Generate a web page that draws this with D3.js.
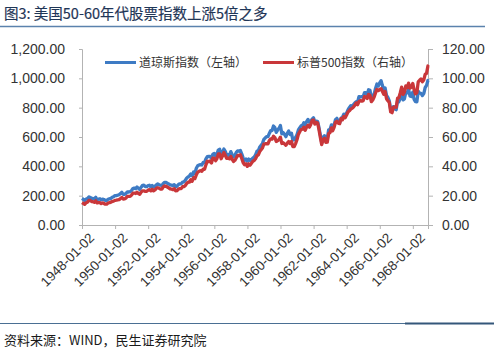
<!DOCTYPE html>
<html><head><meta charset="utf-8">
<script src="https://cdn.jsdelivr.net/npm/d3@7"></script>
<style>
html,body{margin:0;padding:0;background:#fff;}
svg{display:block;}
</style></head>
<body>
<svg id="c" width="500" height="356"></svg>
<script>
// ---- data ----
const titleText = "图3: 美国50-60年代股票指数上涨5倍之多";
const sourceText = "资料来源：WIND，民生证券研究院";
const seriesNames = ["道琼斯指数（左轴）", "标普500指数（右轴）"];
const firstDate = "1948-01-02";
const lastDate = "1968-12-02";
// month-end observations from 1948-01 to 1968-11, plus first and last day
const djiaFirst = 181, djiaLast = 983;
const spFirst = 15.3, spLast = 108.1;
const djia = [
 175,167,177,180,191,189,181,181,178,189,171,177, // 1948
 179,171,177,174,168,167,175,179,182,189,193,200, // 1949
 201,203,206,214,223,209,209,216,226,225,227,235, // 1950
 249,252,248,259,250,242,258,270,271,262,261,269, // 1951
 271,260,270,258,263,274,280,275,271,269,283,291, // 1952
 290,284,280,274,272,268,275,261,265,276,281,281, // 1953
 292,294,304,319,328,334,348,336,361,352,387,404, // 1954
 409,412,409,426,425,451,466,468,467,455,483,488, // 1955
 471,484,512,516,478,493,518,502,476,480,473,500, // 1956
 479,465,474,495,505,503,508,484,456,441,450,436, // 1957
 450,440,447,456,463,478,503,508,532,543,557,584, // 1958
 594,603,602,624,644,644,675,664,632,647,659,679, // 1959
 622,630,617,602,625,641,617,626,580,581,597,616, // 1960
 648,662,676,679,697,684,705,720,701,704,722,731, // 1961
 700,708,707,665,614,561,598,609,579,590,649,652, // 1962
 683,663,683,718,727,707,695,729,733,755,751,763, // 1963
 785,800,813,811,821,832,841,839,875,873,875,874, // 1964
 903,903,889,922,918,868,882,893,931,961,947,969, // 1965
 984,952,925,934,884,870,847,788,774,807,792,786, // 1966
 850,840,866,897,853,860,904,901,927,880,876,905, // 1967
 856,841,840,912,899,898,883,896,936,952,985      // 1968
];
const sp500 = [
 14.7,14.1,15.1,15.5,16.7,16.7,16.0,15.9,15.5,16.5,15.0,15.2, // 1948
 15.2,14.6,15.1,14.7,14.2,14.2,15.0,15.2,15.6,16.0,16.3,16.8, // 1949
 17.0,17.2,17.3,18.0,18.8,17.7,17.8,18.4,19.5,19.5,19.5,20.4, // 1950
 21.7,21.8,21.5,22.4,21.5,21.0,22.4,23.3,23.3,22.9,22.9,23.8, // 1951
 24.1,23.3,24.4,23.3,23.9,25.0,25.4,25.0,24.5,24.5,26.0,26.6, // 1952
 26.4,25.9,25.3,24.6,24.5,24.1,24.8,23.3,23.4,24.5,24.8,24.8, // 1953
 26.1,26.2,26.9,28.3,29.2,29.2,30.9,29.8,32.3,31.7,34.2,36.0, // 1954
 36.6,37.0,36.6,38.0,38.0,41.0,43.5,43.2,43.7,42.3,45.5,45.5, // 1955
 43.8,45.3,48.5,48.4,45.2,47.0,49.4,47.5,45.4,45.6,45.1,46.7, // 1956
 44.7,43.3,44.1,45.7,47.4,47.4,47.9,45.2,42.4,41.1,41.7,40.0, // 1957
 41.7,40.8,42.1,43.4,44.1,45.2,47.2,47.8,50.1,51.3,52.5,55.2, // 1958
 55.4,55.4,55.4,57.6,58.7,58.5,60.5,59.6,56.9,57.5,58.3,59.9, // 1959
 55.6,56.1,55.3,54.4,55.8,56.9,55.5,57.0,53.5,53.4,55.5,58.1, // 1960
 61.8,63.4,65.1,65.3,66.6,64.6,66.8,68.1,66.7,68.6,71.3,71.6, // 1961
 68.8,70.0,69.6,65.2,59.6,54.8,58.2,59.1,56.3,56.5,62.3,63.1, // 1962
 66.2,64.3,66.6,70.0,70.8,69.4,69.1,72.5,71.7,74.0,73.2,75.0, // 1963
 77.0,77.8,79.0,79.5,80.4,81.7,83.2,82.0,84.2,84.9,84.4,84.8, // 1964
 87.6,87.4,86.2,89.1,88.4,84.1,85.3,87.2,90.0,92.4,91.6,92.4, // 1965
 92.9,91.2,89.2,91.1,86.1,84.7,83.6,77.1,76.6,80.2,80.5,80.3, // 1966
 86.6,86.8,90.2,94.0,89.1,90.6,94.8,93.6,96.7,93.3,94.0,96.5, // 1967
 92.2,89.4,90.2,97.6,98.7,99.6,97.7,98.9,102.7,103.4,108.4    // 1968
];
const xTickLabels = ["1948-01-02","1950-01-02","1952-01-02","1954-01-02","1956-01-02","1958-01-02","1960-01-02","1962-01-02","1964-01-02","1966-01-02","1968-01-02"];
const leftTicks = [0,200,400,600,800,1000,1200];
const rightTicks = [0,20,40,60,80,100,120];

// ---- build rows ----
const parse = d3.timeParse("%Y-%m-%d");
function rows(first, arr, last) {
  const out = [{date: parse(firstDate), v: first}];
  arr.forEach((v, i) => out.push({date: new Date(1948, i + 1, 0), v}));
  out.push({date: parse(lastDate), v: last});
  return out;
}
const djRows = rows(djiaFirst, djia, djiaLast);
const spRows = rows(spFirst, sp500, spLast);

// ---- layout ----
const svg = d3.select("#c");
const L = 82, R = 428, T = 49, B = 225;
const x = d3.scaleTime().domain([parse(firstDate), parse(lastDate)]).range([L, R]);
const yL = d3.scaleLinear().domain([0, 1200]).range([B, T]);
const yR = d3.scaleLinear().domain([0, 120]).range([B, T]);
const axisColor = "#b3b3b3";
const labelColor = "#333333";
const numFont = "'Liberation Sans', Arial, sans-serif";
const cjkFont = "'Noto Sans CJK SC', sans-serif";
const blue = "#3e7bc4", red = "#c9373a";

// title
svg.append("text").attr("x", 4).attr("y", 19)
  .attr("font-family", cjkFont).attr("font-size", 14.5).attr("fill", "#1f3657")
  .attr("stroke", "#1f3657").attr("stroke-width", 0.2)
  .text(titleText);
svg.append("line").attr("x1", 0).attr("x2", 485).attr("y1", 26.5).attr("y2", 26.5)
  .attr("stroke", "#5b82ad").attr("stroke-width", 1.4);

// left axis
const gL = svg.append("g").attr("transform", `translate(${L},0)`)
  .call(d3.axisLeft(yL).tickValues(leftTicks).tickSize(3).tickPadding(14)
    .tickFormat(d3.format(",.2f")));
// right axis
const gR = svg.append("g").attr("transform", `translate(${R},0)`)
  .call(d3.axisRight(yR).tickValues(rightTicks).tickSize(5).tickPadding(9)
    .tickFormat(d3.format(",.2f")));
// bottom axis
const gB = svg.append("g").attr("transform", `translate(0,${B})`)
  .call(d3.axisBottom(x).tickValues(xTickLabels.map(parse)).tickSize(4)
    .tickFormat((d, i) => xTickLabels[i]));
[gL, gR, gB].forEach(g => {
  g.select(".domain").attr("stroke", axisColor);
  g.selectAll(".tick line").attr("stroke", axisColor);
  g.selectAll("text").attr("font-family", numFont).attr("fill", labelColor);
});
gL.selectAll("text").attr("font-size", 14);
gR.selectAll("text").attr("font-size", 14);
gB.selectAll("text").attr("font-size", 13.5)
  .attr("text-anchor", "end")
  .attr("transform", "translate(5,6) rotate(-45)")
  .attr("dy", "0.35em").attr("y", 6).attr("x", 0);

// lines
const lineL = d3.line().x(d => x(d.date)).y(d => yL(d.v));
const lineR = d3.line().x(d => x(d.date)).y(d => yR(d.v));
svg.append("path").datum(djRows).attr("d", lineL)
  .attr("fill", "none").attr("stroke", blue).attr("stroke-width", 3.3).attr("stroke-linejoin", "round");
svg.append("path").datum(spRows).attr("d", lineR)
  .attr("fill", "none").attr("stroke", red).attr("stroke-width", 3.3).attr("stroke-linejoin", "round");

// legend
const legend = [
  {name: seriesNames[0], color: blue, x: 105},
  {name: seriesNames[1], color: red, x: 263}
];
legend.forEach(l => {
  svg.append("line").attr("x1", l.x).attr("x2", l.x + 31).attr("y1", 62.5).attr("y2", 62.5)
    .attr("stroke", l.color).attr("stroke-width", 3);
  svg.append("text").attr("x", l.x + 34).attr("y", 67)
    .attr("font-family", cjkFont).attr("font-size", 12).attr("fill", "#333333")
    .text(l.name);
});

// footer
svg.append("line").attr("x1", 0).attr("x2", 494).attr("y1", 323.5).attr("y2", 323.5)
  .attr("stroke", "#4a6f93").attr("stroke-width", 1);
svg.append("line").attr("x1", 405).attr("x2", 494).attr("y1", 323.5).attr("y2", 323.5)
  .attr("stroke", "#34577a").attr("stroke-width", 2);
svg.append("text").attr("x", 4).attr("y", 345)
  .attr("font-family", cjkFont).attr("font-size", 13).attr("fill", "#1a1a1a")
  .text(sourceText);
</script>
</body></html>
